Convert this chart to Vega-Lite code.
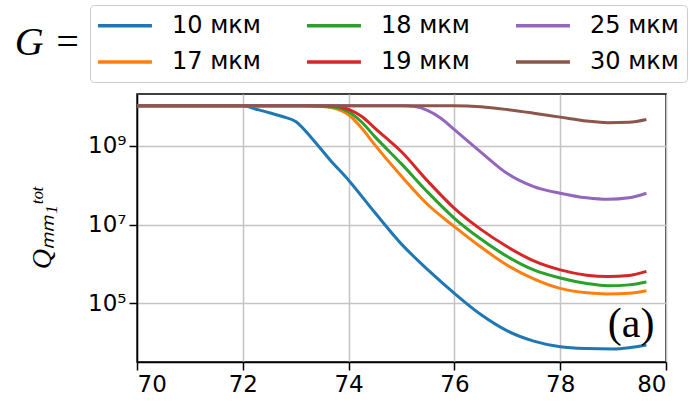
{
  "$schema": "https://vega.github.io/schema/vega-lite/v6.json",
  "width": 529,
  "height": 268,
  "autosize": {"type": "none"},
  "padding": {"left": 137, "top": 94, "right": 26, "bottom": 42},
  "config": {
    "view": {"stroke": "black", "strokeWidth": 1.5},
    "axis": {
      "domainColor": "black", "domainWidth": 1.5,
      "tickColor": "black", "tickWidth": 1.5, "tickSize": 8,
      "gridColor": "#c4c4c4", "gridWidth": 1.5,
      "labelFont": "DejaVu Sans", "labelFontSize": 23, "labelColor": "black",
      "labelPadding": 3
    }
  },
  "datasets": {
    "curves": [
      {"x": 70, "G": "10 мкм", "Q": 1.05e10},
      {"x": 72, "G": "10 мкм", "Q": 1.05e10},
      {"x": 72.25, "G": "10 мкм", "Q": 8.6e9},
      {"x": 72.5, "G": "10 мкм", "Q": 7.0e9},
      {"x": 72.75, "G": "10 мкм", "Q": 5.6e9},
      {"x": 73, "G": "10 мкм", "Q": 4.2e9},
      {"x": 73.3, "G": "10 мкм", "Q": 1.6e9},
      {"x": 73.65, "G": "10 мкм", "Q": 4.4e8},
      {"x": 74, "G": "10 мкм", "Q": 1.35e8},
      {"x": 74.5, "G": "10 мкм", "Q": 2.0e7},
      {"x": 75, "G": "10 мкм", "Q": 3.2e6},
      {"x": 75.5, "G": "10 мкм", "Q": 7.1e5},
      {"x": 76, "G": "10 мкм", "Q": 1.8e5},
      {"x": 76.5, "G": "10 мкм", "Q": 5.2e4},
      {"x": 77, "G": "10 мкм", "Q": 2.0e4},
      {"x": 77.5, "G": "10 мкм", "Q": 1.1e4},
      {"x": 78, "G": "10 мкм", "Q": 7.9e3},
      {"x": 78.5, "G": "10 мкм", "Q": 7.1e3},
      {"x": 79, "G": "10 мкм", "Q": 6.9e3},
      {"x": 79.3, "G": "10 мкм", "Q": 7.4e3},
      {"x": 79.63, "G": "10 мкм", "Q": 8.7e3},

      {"x": 70, "G": "17 мкм", "Q": 1.05e10},
      {"x": 73, "G": "17 мкм", "Q": 1.05e10},
      {"x": 73.5, "G": "17 мкм", "Q": 1.0e10},
      {"x": 73.75, "G": "17 мкм", "Q": 8.9e9},
      {"x": 74, "G": "17 мкм", "Q": 6.2e9},
      {"x": 74.25, "G": "17 мкм", "Q": 2.8e9},
      {"x": 74.5, "G": "17 мкм", "Q": 1.05e9},
      {"x": 75, "G": "17 мкм", "Q": 1.7e8},
      {"x": 75.5, "G": "17 мкм", "Q": 3.2e7},
      {"x": 76, "G": "17 мкм", "Q": 8.9e6},
      {"x": 76.5, "G": "17 мкм", "Q": 2.7e6},
      {"x": 77, "G": "17 мкм", "Q": 9.3e5},
      {"x": 77.5, "G": "17 мкм", "Q": 4.2e5},
      {"x": 78, "G": "17 мкм", "Q": 2.4e5},
      {"x": 78.5, "G": "17 мкм", "Q": 1.86e5},
      {"x": 78.9, "G": "17 мкм", "Q": 1.74e5},
      {"x": 79.3, "G": "17 мкм", "Q": 1.8e5},
      {"x": 79.63, "G": "17 мкм", "Q": 2.1e5},

      {"x": 70, "G": "18 мкм", "Q": 1.05e10},
      {"x": 73.25, "G": "18 мкм", "Q": 1.05e10},
      {"x": 73.75, "G": "18 мкм", "Q": 9.6e9},
      {"x": 74, "G": "18 мкм", "Q": 7.4e9},
      {"x": 74.25, "G": "18 мкм", "Q": 4.0e9},
      {"x": 74.5, "G": "18 мкм", "Q": 1.7e9},
      {"x": 75, "G": "18 мкм", "Q": 3.5e8},
      {"x": 75.5, "G": "18 мкм", "Q": 6.6e7},
      {"x": 76, "G": "18 мкм", "Q": 1.45e7},
      {"x": 76.5, "G": "18 мкм", "Q": 4.3e6},
      {"x": 77, "G": "18 мкм", "Q": 1.55e6},
      {"x": 77.5, "G": "18 мкм", "Q": 7.1e5},
      {"x": 78, "G": "18 мкм", "Q": 4.4e5},
      {"x": 78.5, "G": "18 мкм", "Q": 3.2e5},
      {"x": 78.9, "G": "18 мкм", "Q": 2.8e5},
      {"x": 79.3, "G": "18 мкм", "Q": 2.95e5},
      {"x": 79.63, "G": "18 мкм", "Q": 3.5e5},

      {"x": 70, "G": "19 мкм", "Q": 1.05e10},
      {"x": 73.5, "G": "19 мкм", "Q": 1.05e10},
      {"x": 73.8, "G": "19 мкм", "Q": 1.0e10},
      {"x": 74, "G": "19 мкм", "Q": 8.5e9},
      {"x": 74.25, "G": "19 мкм", "Q": 5.6e9},
      {"x": 74.5, "G": "19 мкм", "Q": 2.8e9},
      {"x": 75, "G": "19 мкм", "Q": 7.1e8},
      {"x": 75.5, "G": "19 мкм", "Q": 1.26e8},
      {"x": 76, "G": "19 мкм", "Q": 2.6e7},
      {"x": 76.5, "G": "19 мкм", "Q": 7.6e6},
      {"x": 77, "G": "19 мкм", "Q": 2.75e6},
      {"x": 77.5, "G": "19 мкм", "Q": 1.2e6},
      {"x": 78, "G": "19 мкм", "Q": 7.1e5},
      {"x": 78.5, "G": "19 мкм", "Q": 5.2e5},
      {"x": 78.9, "G": "19 мкм", "Q": 4.8e5},
      {"x": 79.3, "G": "19 мкм", "Q": 5.1e5},
      {"x": 79.63, "G": "19 мкм", "Q": 6.5e5},

      {"x": 70, "G": "25 мкм", "Q": 1.05e10},
      {"x": 75, "G": "25 мкм", "Q": 1.05e10},
      {"x": 75.25, "G": "25 мкм", "Q": 1.0e10},
      {"x": 75.5, "G": "25 мкм", "Q": 7.9e9},
      {"x": 75.75, "G": "25 мкм", "Q": 5.0e9},
      {"x": 76, "G": "25 мкм", "Q": 2.6e9},
      {"x": 76.5, "G": "25 мкм", "Q": 7.0e8},
      {"x": 77, "G": "25 мкм", "Q": 2.0e8},
      {"x": 77.5, "G": "25 мкм", "Q": 9.3e7},
      {"x": 78, "G": "25 мкм", "Q": 6.3e7},
      {"x": 78.5, "G": "25 мкм", "Q": 4.8e7},
      {"x": 78.9, "G": "25 мкм", "Q": 4.4e7},
      {"x": 79.3, "G": "25 мкм", "Q": 4.8e7},
      {"x": 79.63, "G": "25 мкм", "Q": 6.3e7},

      {"x": 70, "G": "30 мкм", "Q": 1.05e10},
      {"x": 76, "G": "30 мкм", "Q": 1.05e10},
      {"x": 76.5, "G": "30 мкм", "Q": 9.9e9},
      {"x": 77, "G": "30 мкм", "Q": 8.4e9},
      {"x": 77.5, "G": "30 мкм", "Q": 6.8e9},
      {"x": 78, "G": "30 мкм", "Q": 5.4e9},
      {"x": 78.5, "G": "30 мкм", "Q": 4.3e9},
      {"x": 78.9, "G": "30 мкм", "Q": 3.9e9},
      {"x": 79.3, "G": "30 мкм", "Q": 4.0e9},
      {"x": 79.63, "G": "30 мкм", "Q": 4.7e9}
    ],
    "notes": [
      {"x": 79.34, "Q": 3.0e4, "t": "(a)"}
    ],
    "glabel": [
      {"x": 67.69, "Q": 2.07e11, "t": "G ="}
    ]
  },
  "layer": [
    {
      "data": {"name": "curves"},
      "mark": {"type": "line", "strokeWidth": 3, "interpolate": "monotone"},
      "encoding": {
        "x": {"field": "x", "type": "quantitative",
              "scale": {"domain": [70, 80], "nice": false, "zero": false},
              "axis": {"values": [70, 72, 74, 76, 78, 80], "title": null, "grid": true}},
        "y": {"field": "Q", "type": "quantitative",
              "scale": {"type": "log", "domain": [3236, 2.09e10], "nice": false},
              "axis": {"values": [1e5, 1e7, 1e9], "grid": true,
                       "labelExpr": "datum.value == 1e5 ? '10⁵' : datum.value == 1e7 ? '10⁷' : '10⁹'",
                       "title": "Qₘₘ₁ᵗᵒᵗ", "titleFont": "Liberation Serif", "titleFontStyle": "italic",
                       "titleFontWeight": "normal", "titleFontSize": 28, "titleColor": "black", "titlePadding": 31}},
        "color": {"field": "G", "type": "nominal",
                  "scale": {"domain": ["10 мкм", "17 мкм", "18 мкм", "19 мкм", "25 мкм", "30 мкм"],
                            "range": ["#1f77b4", "#ff7f0e", "#2ca02c", "#d62728", "#9467bd", "#8c564b"]},
                  "legend": {"title": null, "orient": "none", "legendX": -47, "legendY": -89,
                             "columns": 3, "symbolType": "M-1.16,0H3.84", "symbolSize": 466, "symbolStrokeWidth": 3.3,
                             "labelFont": "DejaVu Sans", "labelFontSize": 24, "labelColor": "black", "labelOffset": 49, "labelLimit": 200,
                             "columnPadding": 39, "rowPadding": 11.5, "padding": 8,
                             "strokeColor": "#cccccc", "fillColor": "white", "cornerRadius": 4}}
      }
    },
    {
      "data": {"name": "notes"},
      "mark": {"type": "text", "font": "Liberation Serif", "fontSize": 42, "align": "center", "baseline": "middle", "color": "black"},
      "encoding": {
        "x": {"field": "x", "type": "quantitative"},
        "y": {"field": "Q", "type": "quantitative"},
        "text": {"field": "t"}
      }
    },
    {
      "data": {"name": "glabel"},
      "mark": {"type": "text", "font": "Liberation Serif", "fontStyle": "italic", "fontSize": 40, "align": "left", "baseline": "alphabetic", "color": "black"},
      "encoding": {
        "x": {"field": "x", "type": "quantitative"},
        "y": {"field": "Q", "type": "quantitative"},
        "text": {"field": "t"}
      }
    }
  ]
}
